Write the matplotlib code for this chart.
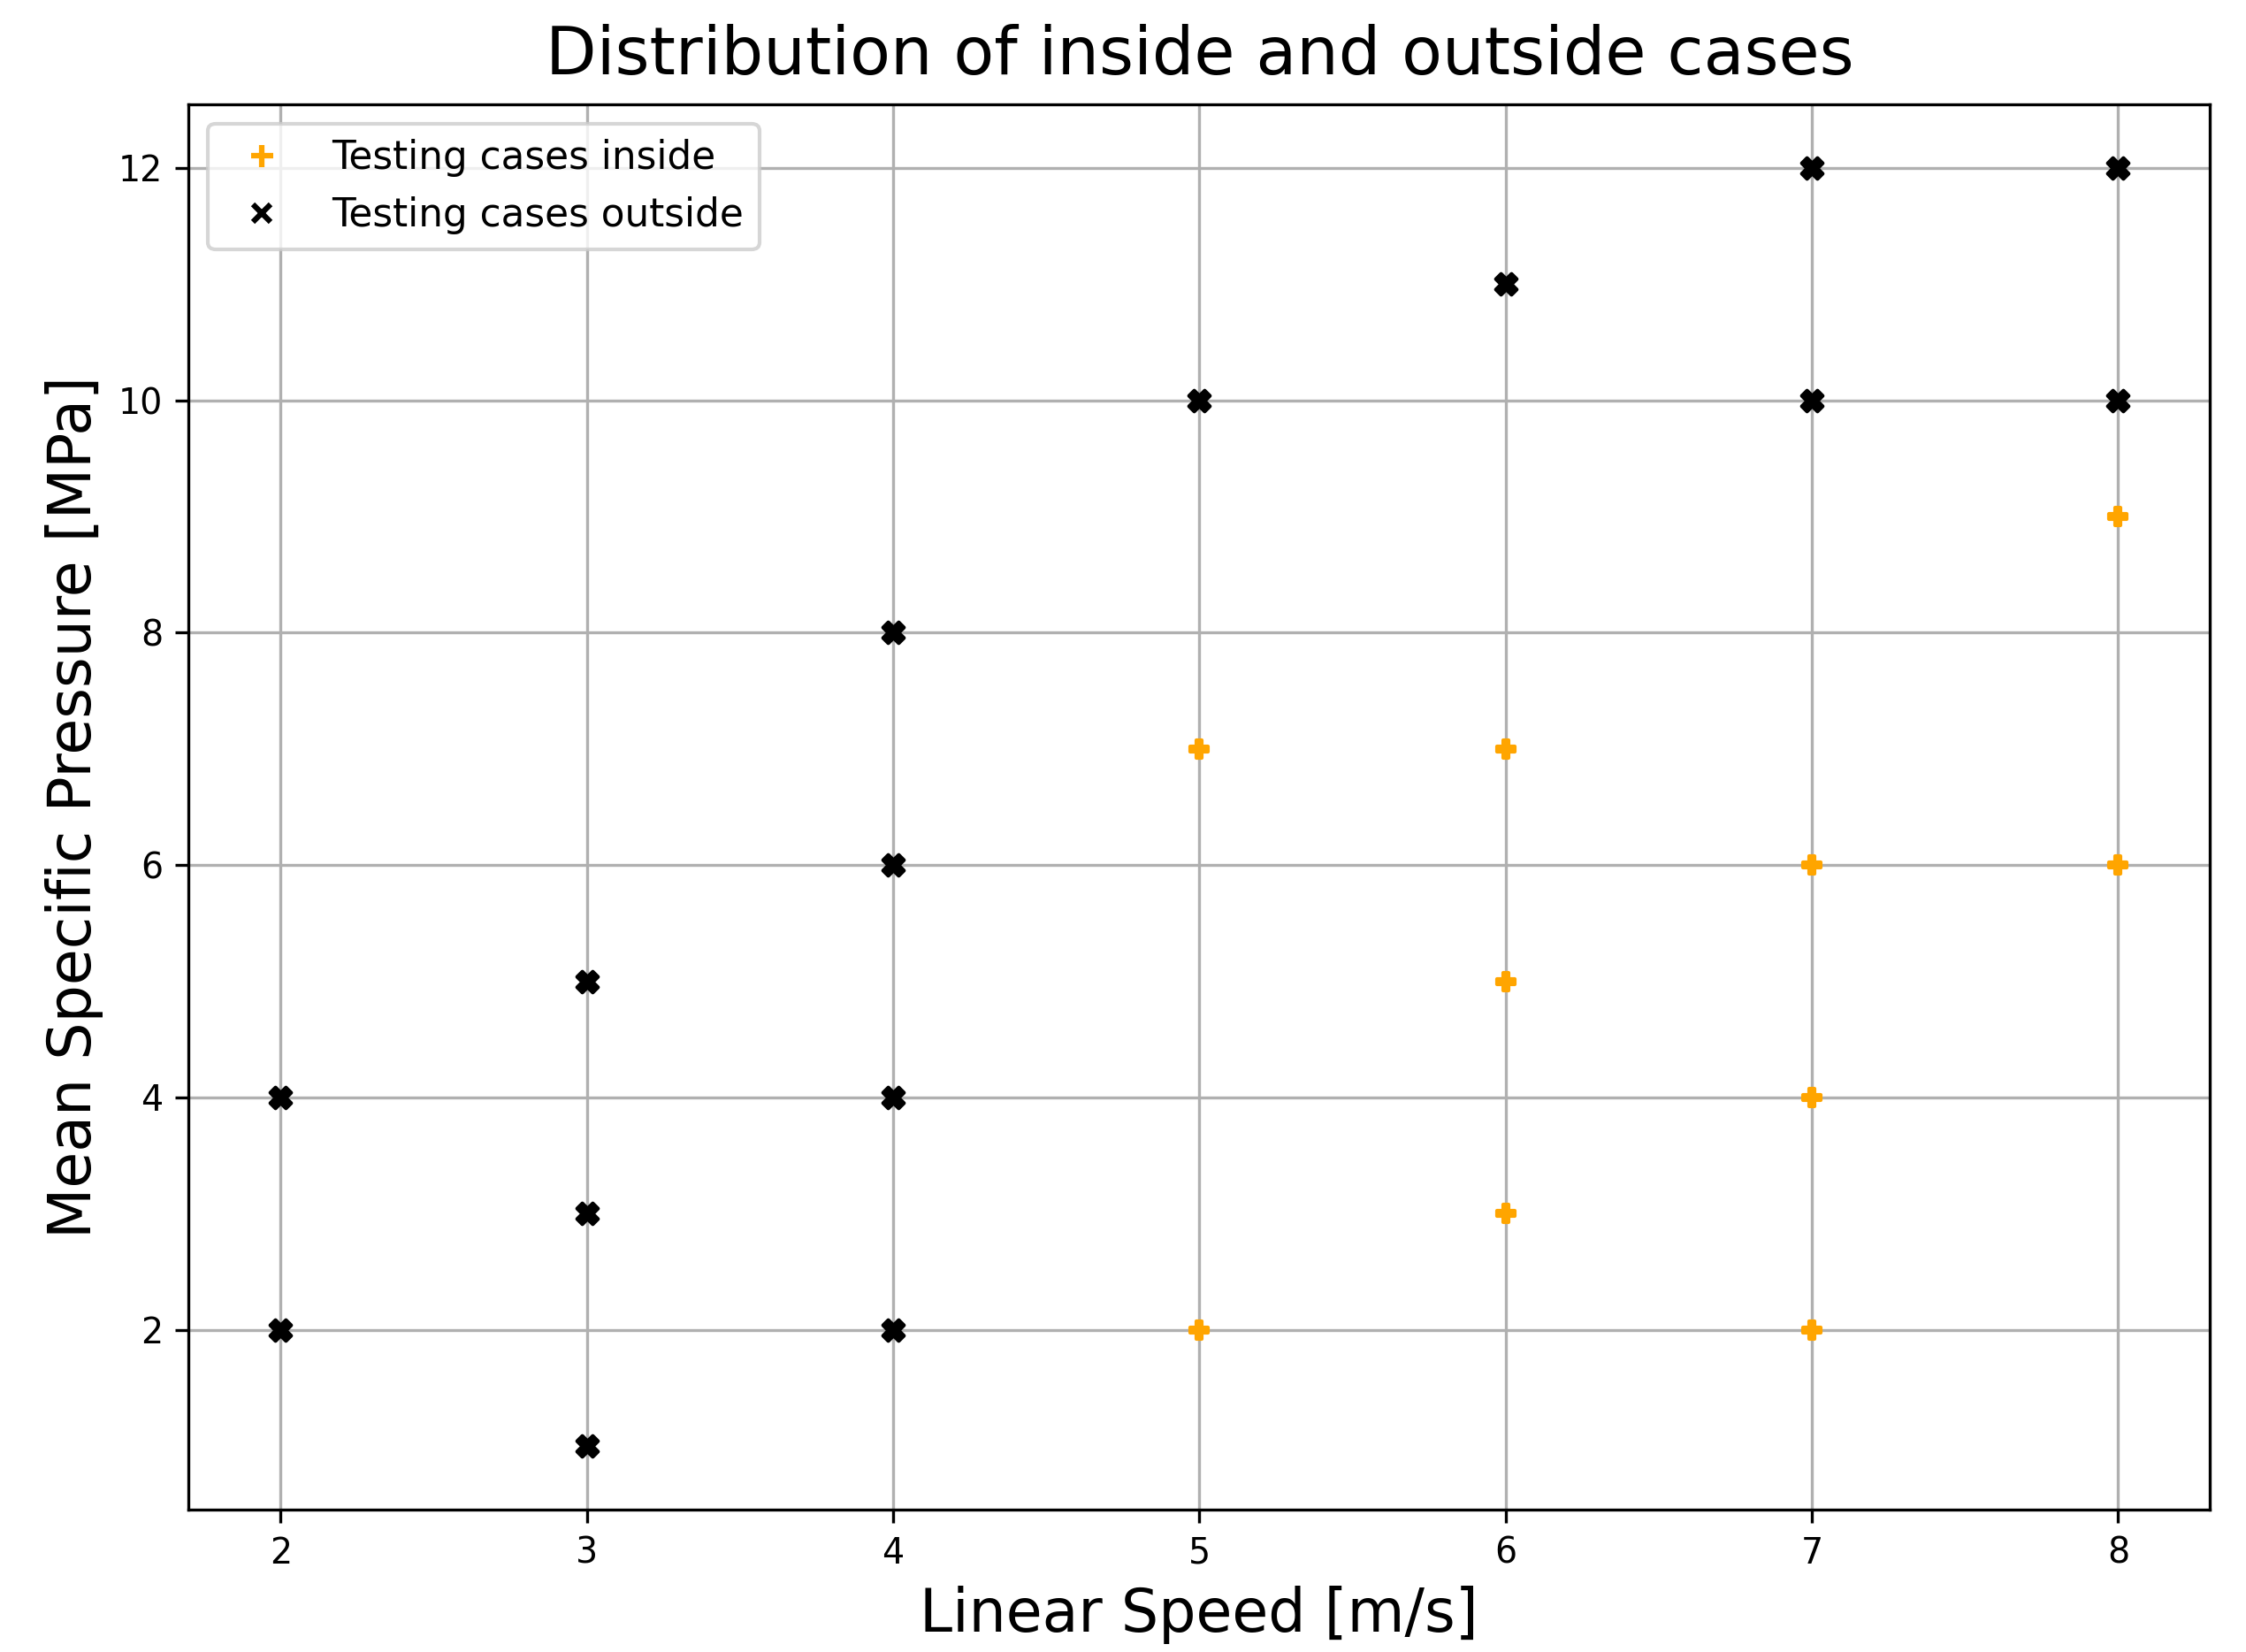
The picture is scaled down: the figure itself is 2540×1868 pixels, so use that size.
import matplotlib
matplotlib.use("Agg")
import matplotlib.pyplot as plt
from matplotlib.lines import Line2D

inside_speed = [5, 5, 6, 6, 6, 7, 7, 7, 8, 8]
inside_pressure = [7, 2, 7, 5, 3, 6, 4, 2, 9, 6]
outside_speed = [2, 2, 3, 3, 3, 4, 4, 4, 4, 5, 6, 7, 7, 8, 8]
outside_pressure = [4, 2, 5, 3, 1, 8, 6, 4, 2, 10, 11, 12, 10, 12, 10]

fig = plt.figure(figsize=(2540/300, 1868/300), dpi=300)
ax = fig.add_axes([0.084, 0.086, 0.9, 0.851])
ax.scatter(inside_speed, inside_pressure, marker='P', s=25, color='orange', zorder=3)
ax.scatter(outside_speed, outside_pressure, marker='X', s=32, color='black', zorder=3)
ax.grid(True, color='#b0b0b0', linewidth=0.8)
ax.set_axisbelow(True)
ax.set_title("Distribution of inside and outside cases", fontsize=18, pad=8)
ax.set_xlabel("Linear Speed [m/s]", fontsize=16, labelpad=4)
ax.set_ylabel("Mean Specific Pressure [MPa]", fontsize=16, labelpad=4)
ax.tick_params(labelsize=9.5)
ax.set_yticks([2, 4, 6, 8, 10, 12])
handles = [Line2D([], [], marker='+', color='orange', linestyle='none', markersize=6, markeredgewidth=1.5),
           Line2D([], [], marker='x', color='black', linestyle='none', markersize=5, markeredgewidth=1.5)]
ax.legend(handles, ["Testing cases inside", "Testing cases outside"], loc='upper left', fontsize=10.5)
fig.savefig("out.png", dpi=300)
